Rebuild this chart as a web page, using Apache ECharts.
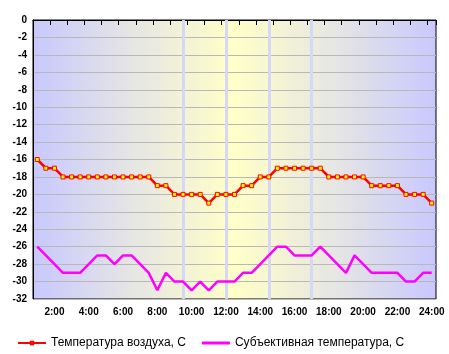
<!DOCTYPE html>
<html><head><meta charset="utf-8">
<script src="https://cdn.jsdelivr.net/npm/echarts@6/dist/echarts.min.js"></script>
<style>html,body{margin:0;padding:0;background:#fff}#c{width:449px;height:354px}</style>
</head><body><div id="c"></div>
<script>
var categories = ['1:00','1:30','2:00','2:30','3:00','3:30','4:00','4:30','5:00','5:30','6:00','6:30','7:00','7:30','8:00','8:30','9:00','9:30','10:00','10:30','11:00','11:30','12:00','12:30','13:00','13:30','14:00','14:30','15:00','15:30','16:00','16:30','17:00','17:30','18:00','18:30','19:00','19:30','20:00','20:30','21:00','21:30','22:00','22:30','23:00','23:30','24:00'];
var airTemp = [-16,-17,-17,-18,-18,-18,-18,-18,-18,-18,-18,-18,-18,-18,-19,-19,-20,-20,-20,-20,-21,-20,-20,-20,-19,-19,-18,-18,-17,-17,-17,-17,-17,-17,-18,-18,-18,-18,-18,-19,-19,-19,-19,-20,-20,-20,-21];
var feelTemp = [-26,-27,-28,-29,-29,-29,-28,-27,-27,-28,-27,-27,-28,-29,-31,-29,-30,-30,-31,-30,-31,-30,-30,-30,-29,-29,-28,-27,-26,-26,-27,-27,-27,-26,-27,-28,-29,-27,-28,-29,-29,-29,-29,-30,-30,-29,-29];
var markTimes = ['9:30','12:00','14:30','17:00'];
var seriesNames = ['Температура воздуха, С','Субъективная температура, С'];

var chart = echarts.init(document.getElementById('c'), null, {renderer:'canvas'});
var bg = new echarts.graphic.LinearGradient(0,0,1,0,[
  {offset:0,color:'#c8c8ff'},
  {offset:0.25,color:'#e6e6e4'},
  {offset:0.5,color:'#ffffc8'},
  {offset:0.75,color:'#e6e6e4'},
  {offset:1,color:'#c8c8ff'}
]);
chart.setOption({
  animation:false,
  backgroundColor:'#fff',
  grid:{left:33,right:13,top:20,bottom:55,show:true,backgroundColor:bg,borderColor:'#000',borderWidth:1},
  legend:{
    data:[{name:seriesNames[0]},{name:seriesNames[1],icon:'rect',itemStyle:{color:'#ff00ff'}}],
    left:17, top:337, padding:0, itemWidth:28, itemHeight:3, itemGap:16,
    textStyle:{fontFamily:'Liberation Sans, Arial, sans-serif',fontSize:12,color:'#000'}
  },
  xAxis:{
    type:'category', data:categories, boundaryGap:true,
    axisLine:{lineStyle:{color:'#000',width:1}},
    axisTick:{show:true,length:5,lineStyle:{color:'#000'},interval:function(i){return i%2===0;}},
    axisLabel:{interval:function(i){return (i-2)%4===0;},margin:8,fontFamily:'Liberation Sans, Arial, sans-serif',fontSize:10,fontWeight:'bold',color:'#000'},
    splitLine:{show:false}
  },
  yAxis:{
    type:'value', min:-32, max:0, interval:2,
    axisLine:{show:true,lineStyle:{color:'#000',width:1}},
    axisTick:{show:false},
    axisLabel:{margin:6,fontFamily:'Liberation Sans, Arial, sans-serif',fontSize:10,fontWeight:'bold',color:'#000'},
    splitLine:{show:true,lineStyle:{color:'#b8b8b8',width:1}}
  },
  series:[
    {name:'bands',type:'line',data:[],z:1,silent:true,
      markLine:{silent:true,symbol:['none','none'],label:{show:false},
        lineStyle:{type:'solid',color:'#d6d6f6',width:3},
        data:markTimes.map(function(t){return {xAxis:t};})}},
    {name:seriesNames[0],type:'line',data:airTemp,zlevel:1,z:10,
      symbol:'rect',symbolSize:4,showSymbol:true,
      itemStyle:{color:'#ffff00',borderColor:'#ff0000',borderWidth:1},
      lineStyle:{color:'#ff0000',width:2.5}},
    {name:seriesNames[1],type:'line',data:feelTemp,zlevel:1,z:9,
      showSymbol:false,symbol:'none',
      itemStyle:{color:'#ff00ff'},
      lineStyle:{color:'#ff00ff',width:2.5}}
  ]
});
</script></body></html>
